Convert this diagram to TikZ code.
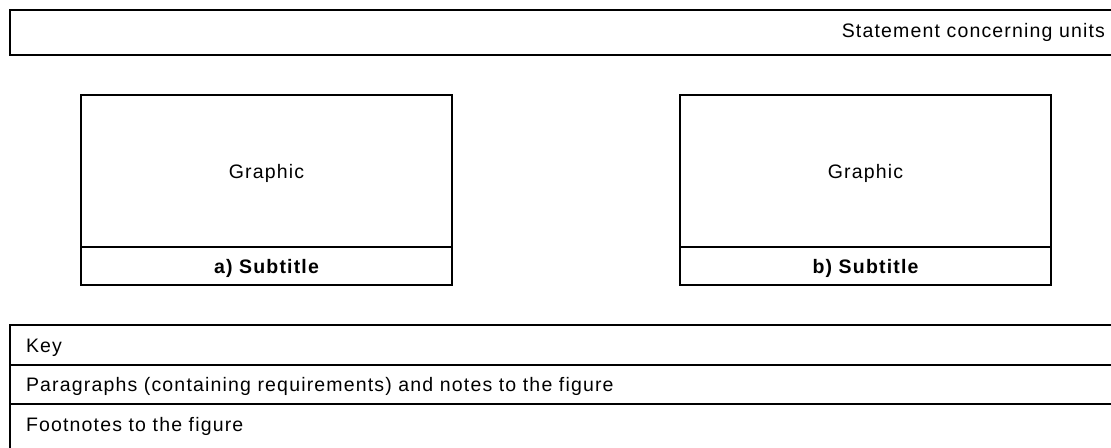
\documentclass[tikz,border=0pt]{standalone}
\usepackage{fontspec}
\setmainfont[LetterSpace=6]{Liberation Sans}

\tikzset{
  graphicbox/.style={draw, anchor=north west, inner sep=0pt, outer sep=0pt,
    text depth=0pt, minimum width=185.5pt, minimum height=76pt},
  subbox/.style={graphicbox, minimum height=19pt,
    font=\fontsize{9.75}{11}\selectfont\bfseries},
  rowtext/.style={anchor=base west, inner sep=0pt}
}

\begin{document}
\begin{tikzpicture}[x=0.5pt, y=-0.5pt, line width=1pt,
  every node/.style={font=\fontsize{9.75}{11}\selectfont}]

\clip (0,0) rectangle (1111,448);

% statement concerning units
\draw (10,10) rectangle (1130,55);
\node[anchor=base east, inner sep=0pt] (units) at (1106,37.5) {Statement concerning units};

% the two graphics with their subtitles
\node[graphicbox] (grapha) at (81,95) {Graphic};
\node[subbox] (suba) at (grapha.south west) {a) Subtitle};

\node[graphicbox] (graphb) at (680,95) {Graphic};
\node[subbox] (subb) at (graphb.south west) {b) Subtitle};

% key, paragraphs and footnotes
\draw (10,325) rectangle (1130,365);
\draw (10,365) rectangle (1130,404);
\draw (10,404) rectangle (1130,480);

\node[rowtext] (key) at (25,352) {Key};
\node[rowtext] (paras) at (25,391) {Paragraphs (containing requirements) and notes to the figure};
\node[rowtext] (foot) at (25,431) {Footnotes to the figure};

\end{tikzpicture}
\end{document}
